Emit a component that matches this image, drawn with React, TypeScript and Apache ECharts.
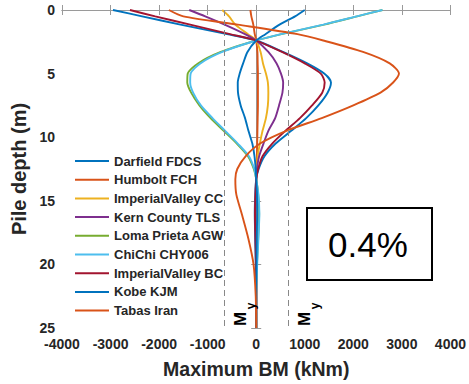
import React, { useEffect, useRef } from "react";
import * as echarts from "echarts";

// Pile depth (m) at which each moment value was read
const depths = [0, 0.5, 1.15, 1.9, 2.4, 3.3, 4.2, 5.0, 5.7, 6.5, 7.5, 8.5, 9.5, 10.5, 11.5, 12.5, 13.3, 14.5, 16, 18, 20, 22.5, 25];

const seriesNames = [
  "Darfield FDCS",
  "Humbolt FCH",
  "ImperialValley CC",
  "Kern County TLS",
  "Loma Prieta AGW",
  "ChiChi CHY006",
  "ImperialValley BC",
  "Kobe KJM",
  "Tabas Iran",
];

const darfieldFDCS = [-2950, -2350, -1560, -600, 0, 550, 1050, 1400, 1540, 1470, 1280, 1030, 720, 400, 170, 50, 0, -20, -30, -20, -10, 0, 0];
const humboltFCH = [-120, -100, -60, -30, 0, 25, 30, 35, 35, 35, 35, 30, 25, 20, 15, 5, 0, 0, -5, -5, 0, 0, 0];
const imperialValleyCC = [-700, -560, -430, -170, 0, 90, 140, 200, 240, 250, 240, 200, 130, 75, 30, 10, 0, 5, 10, 5, 0, 0, 0];
const kernCountyTLS = [-1380, -1050, -650, -230, 0, 250, 420, 510, 555, 540, 470, 390, 250, 150, 60, 15, 0, -10, -15, -10, 0, 0, 0];
const lomaPrietaAGW = [2600, 2080, 1400, 520, 0, -730, -1200, -1410, -1420, -1340, -1170, -940, -670, -400, -170, -50, 0, 40, 60, 40, 15, 0, 0];
const chiChiCHY006 = [2600, 2070, 1380, 510, 0, -700, -1150, -1350, -1360, -1300, -1140, -900, -640, -380, -150, -40, 0, 45, 65, 45, 20, 0, 0];
const imperialValleyBC = [-2600, -2080, -1360, -540, 0, 530, 1000, 1330, 1410, 1360, 1150, 900, 600, 330, 130, 40, 0, -15, -25, -15, -5, 0, 0];
const kobeKJM = [1000, 800, 480, 190, 0, -180, -270, -340, -380, -375, -320, -230, -160, -80, -35, -10, 0, 15, 20, 10, 5, 0, 0];
const tabasIran = [-1800, -1500, -380, 850, 1380, 2200, 2750, 2940, 2820, 2560, 2000, 1350, 620, 80, -220, -390, -430, -410, -300, -160, -55, -10, 0];

const seriesValues = [darfieldFDCS, humboltFCH, imperialValleyCC, kernCountyTLS, lomaPrietaAGW, chiChiCHY006, imperialValleyBC, kobeKJM, tabasIran];
const seriesColors = ["#0072BD", "#D95319", "#EDB120", "#7E2F8E", "#77AC30", "#4DBEEE", "#A2142F", "#0072BD", "#D95319"];

// Yield moment (kNm)
const yieldMoments = [-650, 650];
const xTicks = { min: -4000, max: 4000, interval: 1000 };
const yTicks = { min: 0, max: 25, interval: 5 };
const boxLabel = "0.4%";

const FONT = "Liberation Sans, Arial, sans-serif";
const AXIS_GRAY = "#9a9a9a";
const TEXT_DARK = "#262626";

export default function App() {
  const ref = useRef<HTMLDivElement>(null);
  useEffect(() => {
    const chart = echarts.init(ref.current!, null, { renderer: "svg" });
    const series: any[] = seriesNames.map((name, k) => ({
      name,
      type: "line",
      data: depths.map((d, i) => [seriesValues[k][i], d]),
      symbol: "none",
      smooth: 0.25,
      lineStyle: { width: 1.9, color: seriesColors[k] },
      itemStyle: { color: seriesColors[k] },
      z: 3,
    }));
    series.push({
      name: "My",
      type: "line",
      data: [],
      markLine: {
        silent: true,
        symbol: "none",
        label: { show: false },
        lineStyle: { color: "#888", type: [6, 4], width: 1 },
        data: yieldMoments.map((v) => ({ xAxis: v })),
      },
    });

    const commonAxis = {
      axisLine: { show: true, lineStyle: { color: AXIS_GRAY, width: 1 } },
      axisTick: { show: true, inside: true, length: 5, lineStyle: { color: AXIS_GRAY } },
      splitLine: { show: false },
    };

    const mText = (x: number) => [
      {
        type: "text",
        x,
        y: 319,
        rotation: Math.PI / 2,
        style: { text: "M", fontSize: 17, fontWeight: "bold", fontFamily: FONT, fill: "#000", align: "center", verticalAlign: "middle" },
        z: 10,
      },
      {
        type: "text",
        x: x + 11,
        y: 306,
        rotation: Math.PI / 2,
        style: { text: "y", fontSize: 12, fontWeight: "bold", fontFamily: FONT, fill: "#000", align: "center", verticalAlign: "middle" },
        z: 10,
      },
    ];

    chart.setOption({
      animation: false,
      backgroundColor: "#fff",
      grid: { left: 62, right: 15, top: 10, bottom: 53, containLabel: false },
      legend: {
        orient: "vertical",
        left: 75,
        top: 154,
        data: seriesNames,
        icon: "rect",
        itemWidth: 34,
        itemHeight: 2,
        itemGap: 4.7,
        padding: 0,
        textStyle: { fontSize: 13, fontWeight: "bold", fontFamily: FONT, color: TEXT_DARK, lineHeight: 14 },
      },
      xAxis: [
        {
          type: "value",
          position: "bottom",
          ...xTicks,
          ...commonAxis,
          axisLabel: { fontSize: 14, fontWeight: "bold", fontFamily: FONT, color: TEXT_DARK, margin: 9, formatter: (v: number) => String(v) },
          name: "Maximum BM (kNm)",
          nameLocation: "middle",
          nameGap: 31,
          nameTextStyle: { fontSize: 19.5, fontWeight: "bold", fontFamily: FONT, color: TEXT_DARK },
        },
        {
          type: "value",
          position: "top",
          ...xTicks,
          ...commonAxis,
          axisLabel: { show: false },
        },
      ],
      yAxis: [
        {
          type: "value",
          position: "left",
          inverse: true,
          ...yTicks,
          ...commonAxis,
          axisLabel: { fontSize: 14, fontWeight: "bold", fontFamily: FONT, color: TEXT_DARK, margin: 7, formatter: (v: number) => String(v) },
          name: "Pile depth (m)",
          nameLocation: "middle",
          nameGap: 14,
          nameTextStyle: { fontSize: 20, fontWeight: "bold", fontFamily: FONT, color: TEXT_DARK },
        },
        {
          type: "value",
          position: "right",
          inverse: true,
          ...yTicks,
          ...commonAxis,
          axisLabel: { show: false },
        },
      ],
      series,
      graphic: [
        {
          type: "rect",
          shape: { x: 307, y: 208, width: 125, height: 72 },
          style: { fill: "#fff", stroke: "#000", lineWidth: 2 },
          z: 10,
        },
        {
          type: "text",
          x: 368,
          y: 244,
          style: { text: boxLabel, fontSize: 35, fontFamily: FONT, fill: "#000", align: "center", verticalAlign: "middle" },
          z: 11,
        },
        ...mText(240),
        ...mText(304),
      ],
    });
    return () => chart.dispose();
  }, []);
  return <div ref={ref} style={{ position: "absolute", left: 0, top: 0, width: 469, height: 384 }} />;
}
